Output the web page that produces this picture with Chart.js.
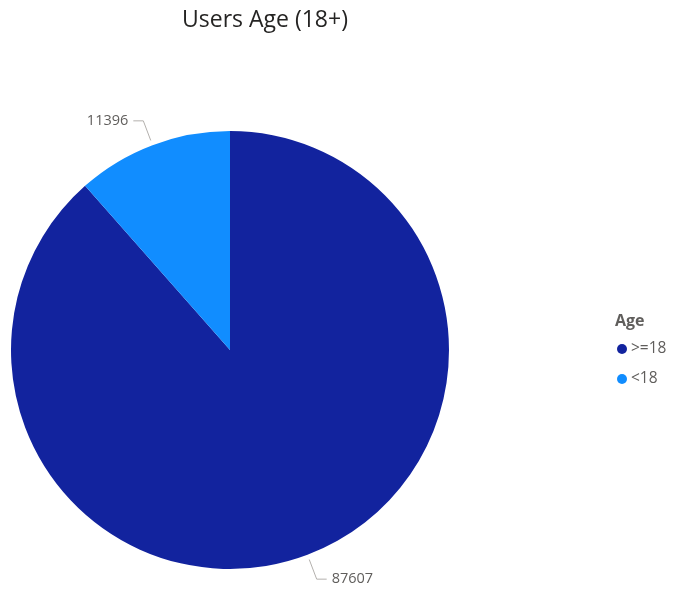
<!DOCTYPE html>
<html>
<head>
<meta charset="utf-8">
<script src="https://cdn.jsdelivr.net/npm/chart.js@4"></script>
<style>
  html, body { margin: 0; padding: 0; background: #fff; }
  canvas { display: block; }
</style>
</head>
<body>
<canvas id="grafico" width="676" height="590"></canvas>
<script>
// datos del grafico
const categorias = ['>=18', '<18'];
const valores = [87607, 11396];
const colores = ['#12239E', '#118DFF'];
const tituloGrafico = 'Users Age (18+)';
const tituloLeyenda = 'Age';

const fuente = '"Open Sans", "Noto Sans", sans-serif';

// titulo, etiquetas con lineas guia y leyenda
const extras = {
  id: 'extras',
  afterDraw(chart) {
    const ctx = chart.ctx;
    ctx.save();

    // titulo
    ctx.fillStyle = '#252423';
    ctx.font = '500 23px ' + fuente;
    ctx.textAlign = 'center';
    ctx.textBaseline = 'middle';
    ctx.fillText(tituloGrafico, 265, 20);

    // etiquetas de datos
    const arcos = chart.getDatasetMeta(0).data;
    arcos.forEach((arco, i) => {
      const medio = (arco.startAngle + arco.endAngle) / 2;
      const r = arco.outerRadius;
      const cx = Math.cos(medio), cy = Math.sin(medio);
      const x1 = arco.x + cx * (r + 5), y1 = arco.y + cy * (r + 5);
      const x2 = arco.x + cx * (r + 26), y2 = arco.y + cy * (r + 26);
      const dir = cx >= 0 ? 1 : -1;
      const x3 = x2 + dir * 10;
      ctx.strokeStyle = '#B3B0AD';
      ctx.lineWidth = 1;
      ctx.beginPath();
      ctx.moveTo(x1, y1);
      ctx.lineTo(x2, y2);
      ctx.lineTo(x3, y2);
      ctx.stroke();
      ctx.fillStyle = '#605E5C';
      ctx.font = '14.5px ' + fuente;
      ctx.textAlign = dir > 0 ? 'left' : 'right';
      ctx.textBaseline = 'middle';
      ctx.fillText(String(valores[i]), x3 + dir * 5, y2);
    });

    // leyenda
    ctx.textAlign = 'left';
    ctx.textBaseline = 'middle';
    ctx.fillStyle = '#605E5C';
    ctx.font = 'bold 16px ' + fuente;
    ctx.fillText(tituloLeyenda, 615, 321);
    categorias.forEach((c, i) => {
      const y = 349 + i * 30;
      ctx.fillStyle = colores[i];
      ctx.beginPath();
      ctx.arc(622, y, 5, 0, Math.PI * 2);
      ctx.fill();
      ctx.fillStyle = '#605E5C';
      ctx.font = '15.5px ' + fuente;
      ctx.fillText(c, 631, y);
    });
    ctx.restore();
  }
};

new Chart(document.getElementById('grafico'), {
  type: 'pie',
  data: {
    labels: categorias,
    datasets: [{
      data: valores,
      backgroundColor: colores,
      borderWidth: 0
    }]
  },
  options: {
    responsive: false,
    devicePixelRatio: 1,
    animation: false,
    layout: { padding: { left: 11, right: 227, top: 131, bottom: 21 } },
    plugins: {
      legend: { display: false },
      tooltip: { enabled: false }
    }
  },
  plugins: [extras]
});
</script>
</body>
</html>
